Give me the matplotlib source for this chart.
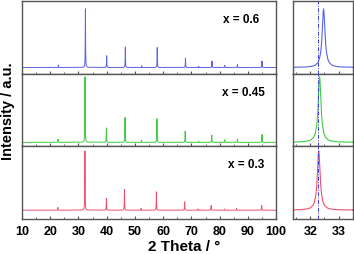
import matplotlib
matplotlib.use("Agg")
import matplotlib.pyplot as plt
from matplotlib.ticker import MultipleLocator

plt.rcParams["font.family"] = ["Liberation Sans", "DejaVu Sans"]
plt.rcParams["font.weight"] = "bold"

# peak positions (2 theta) and relative heights
labels = ["x = 0.6", "x = 0.45", "x = 0.3"]
colors = ["#5a64e6", "#3fcc3f", "#f0506e"]

pos_06 = [22.9, 32.47, 40.0, 46.6, 52.4, 57.9, 67.9, 72.6, 77.3, 81.8, 86.3, 95.0]
int_06 = [0.04, 1.00, 0.20, 0.35, 0.03, 0.34, 0.16, 0.02, 0.11, 0.035, 0.05, 0.11]

pos_045 = [22.8, 32.33, 39.9, 46.5, 52.3, 57.8, 67.8, 72.5, 77.2, 81.8, 86.3, 95.0]
int_045 = [0.05, 1.00, 0.22, 0.38, 0.03, 0.36, 0.17, 0.02, 0.11, 0.04, 0.05, 0.12]

pos_03 = [22.7, 32.30, 39.9, 46.3, 52.2, 57.6, 67.6, 72.4, 77.0, 81.7, 86.0, 94.9]
int_03 = [0.045, 1.00, 0.20, 0.35, 0.03, 0.31, 0.14, 0.02, 0.08, 0.02, 0.03, 0.08]

peaks = [(pos_06, int_06), (pos_045, int_045), (pos_03, int_03)]

# peak profile read from the zoomed (110) reflection: offset / relative height
prof_dx = [-1.0, -0.6, -0.4, -0.3, -0.2, -0.15, -0.1, -0.07, -0.05, -0.03, -0.015, 0.0,
           0.015, 0.03, 0.05, 0.07, 0.1, 0.15, 0.2, 0.3, 0.4, 0.6, 1.0]
prof_y = [0.004, 0.01, 0.022, 0.038, 0.083, 0.14, 0.265, 0.42, 0.59, 0.80, 0.94, 1.0,
          0.94, 0.80, 0.59, 0.42, 0.265, 0.14, 0.083, 0.038, 0.022, 0.01, 0.004]

ref_line = 32.27

# y ranges so baselines / tops sit where they do in the figure
ylims = [(-0.103, 1.138), (-0.06, 1.05), (-0.15, 1.08)]
label_x = [0.79, 0.787, 0.81]


def pattern(pos, hts, xmin, xmax):
    xs = [xmin]
    ys = [0.0]
    for p, h in zip(pos, hts):
        for dx, f in zip(prof_dx, prof_y):
            xs.append(p + dx)
            ys.append(h * f)
    xs.append(xmax)
    ys.append(0.0)
    return xs, ys


fig = plt.figure(figsize=(3.54, 2.55), dpi=100)
top, bottom = 0.993, 0.137
h = (top - bottom) / 3
spine_c = "#555555"

for i in range(3):
    y0 = top - (i + 1) * h
    axl = fig.add_axes([0.062, y0, 0.718, h])
    axr = fig.add_axes([0.828, y0, 0.169, h])
    pos, hts = peaks[i]

    xs, ys = pattern(pos, hts, 10, 100)
    axl.plot(xs, ys, color=colors[i], lw=0.7)
    axl.set_xlim(10, 100)
    axl.set_ylim(*ylims[i])
    axl.text(label_x[i], 0.75, labels[i], transform=axl.transAxes,
             fontsize=8.5, fontweight="bold", ha="left", va="center")

    xs, ys = pattern(pos, hts, 31.4, 33.5)
    axr.plot(xs, ys, color=colors[i], lw=0.8)
    axr.axvline(ref_line, color="#3a3ae0", lw=0.7, ls=(0, (4, 1.5, 1, 1.5)))
    axr.set_xlim(31.4, 33.5)
    axr.set_ylim(*ylims[i])

    for ax in (axl, axr):
        ax.set_yticks([])
        for s in ax.spines.values():
            s.set_color(spine_c)
            s.set_linewidth(1.0)
        ax.tick_params(axis="x", direction="in", length=2.5, width=0.8,
                       color=spine_c, labelsize=9, pad=4)
        ax.tick_params(axis="x", which="minor", direction="in", length=1.5,
                       width=0.6, color=spine_c)
        if i < 2:
            ax.tick_params(axis="x", labelbottom=False)

    axl.xaxis.set_major_locator(MultipleLocator(10))
    axl.xaxis.set_minor_locator(MultipleLocator(5))
    axr.xaxis.set_major_locator(MultipleLocator(1))
    axr.xaxis.set_minor_locator(MultipleLocator(0.5))

fig.text(0.52, 0.033, "2 Theta / \u00b0", ha="center", va="center",
         fontsize=11, fontweight="bold")
fig.text(0.022, 0.565, "Intensity / a.u.", ha="center", va="center",
         rotation=90, fontsize=10.5, fontweight="bold")

fig.savefig("out.png", dpi=100)
